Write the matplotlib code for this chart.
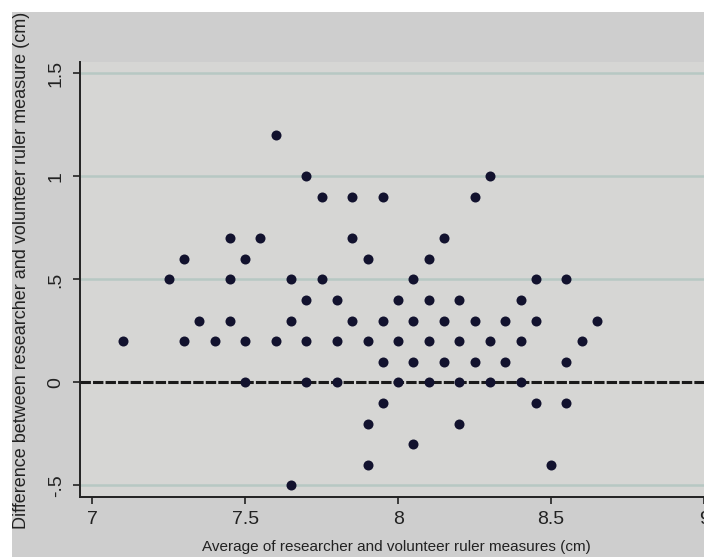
import matplotlib.pyplot as plt
from matplotlib.patches import Rectangle

plt.rcParams['font.family'] = ['Liberation Sans', 'DejaVu Sans']

# Bland-Altman style data: difference (cm) against list of averages (cm)
diff_levels = [1.2, 1.0, 0.9, 0.7, 0.6, 0.5, 0.4, 0.3, 0.2, 0.1, 0.0,
               -0.1, -0.2, -0.3, -0.4, -0.5]
avg_at_level = [
    [7.60],
    [7.70, 8.30],
    [7.75, 7.85, 7.95, 8.25],
    [7.45, 7.55, 7.85, 8.15],
    [7.30, 7.50, 7.90, 8.10],
    [7.25, 7.45, 7.65, 7.75, 8.05, 8.45, 8.55],
    [7.70, 7.80, 8.00, 8.10, 8.20, 8.40],
    [7.35, 7.45, 7.65, 7.85, 7.95, 8.05, 8.15, 8.25, 8.35, 8.45, 8.65],
    [7.10, 7.30, 7.40, 7.50, 7.60, 7.70, 7.80, 7.90, 8.00, 8.10, 8.20,
     8.30, 8.40, 8.60],
    [7.95, 8.05, 8.15, 8.25, 8.35, 8.55],
    [7.50, 7.70, 7.80, 8.00, 8.10, 8.20, 8.30, 8.40],
    [7.95, 8.45, 8.55],
    [7.90, 8.20],
    [8.05],
    [7.90, 8.50],
    [7.65],
]

x_ticks = [7, 7.5, 8, 8.5, 9]
x_labels = ['7', '7.5', '8', '8.5', '9']
y_ticks = [-0.5, 0, 0.5, 1, 1.5]
y_labels = ['-.5', '0', '.5', '1', '1.5']

avg = []
diff = []
for d, xs in zip(diff_levels, avg_at_level):
    for x in xs:
        avg.append(x)
        diff.append(d)

fig = plt.figure(figsize=(7.04, 5.57), dpi=100)
fig.patch.set_facecolor('white')
# gray graph region (white strip at top and left, as in the scan)
fig.patches.append(Rectangle((12 / 704, 0), 1, 1 - 12 / 557,
                             transform=fig.transFigure, facecolor='#cecece',
                             edgecolor='none', zorder=-10))

ax = fig.add_axes([80 / 704, 60 / 557, 632 / 704, 435 / 557])
ax.set_facecolor('#d6d6d4')

ax.set_xlim(6.96, 9.026)
ax.set_ylim(-0.556, 1.555)

for yv in [-0.5, 0.5, 1, 1.5]:
    ax.axhline(yv, color='#b7c8c3', lw=1.8, zorder=1)
ax.axhline(0, color='#1a1a1a', lw=2.2, ls=(0, (3.4, 0.7)), zorder=2)

ax.scatter(avg, diff, s=52, color='#12122e', zorder=3, linewidths=0)

ax.set_xticks(x_ticks)
ax.set_xticklabels(x_labels, fontsize=14)
ax.set_yticks(y_ticks)
ax.set_yticklabels(y_labels, fontsize=14, rotation=90, va='center')
ax.tick_params(direction='out', length=5, width=1.2, color='#222222',
               labelcolor='#222222')
ax.tick_params(axis='x', pad=5)
ax.tick_params(axis='y', pad=6)

for side in ['top', 'right']:
    ax.spines[side].set_visible(False)
for side in ['left', 'bottom']:
    ax.spines[side].set_linewidth(1.4)
    ax.spines[side].set_color('#222222')

ax.set_xlabel('Average of researcher and volunteer ruler measures (cm)',
              fontsize=11, color='#222222', labelpad=9)
ax.set_ylabel('Difference between researcher and volunteer ruler measure (cm)',
              fontsize=13, color='#222222')
ax.yaxis.set_label_coords(-0.079, 0.522)

fig.savefig('out.png', dpi=100, facecolor=fig.get_facecolor())
